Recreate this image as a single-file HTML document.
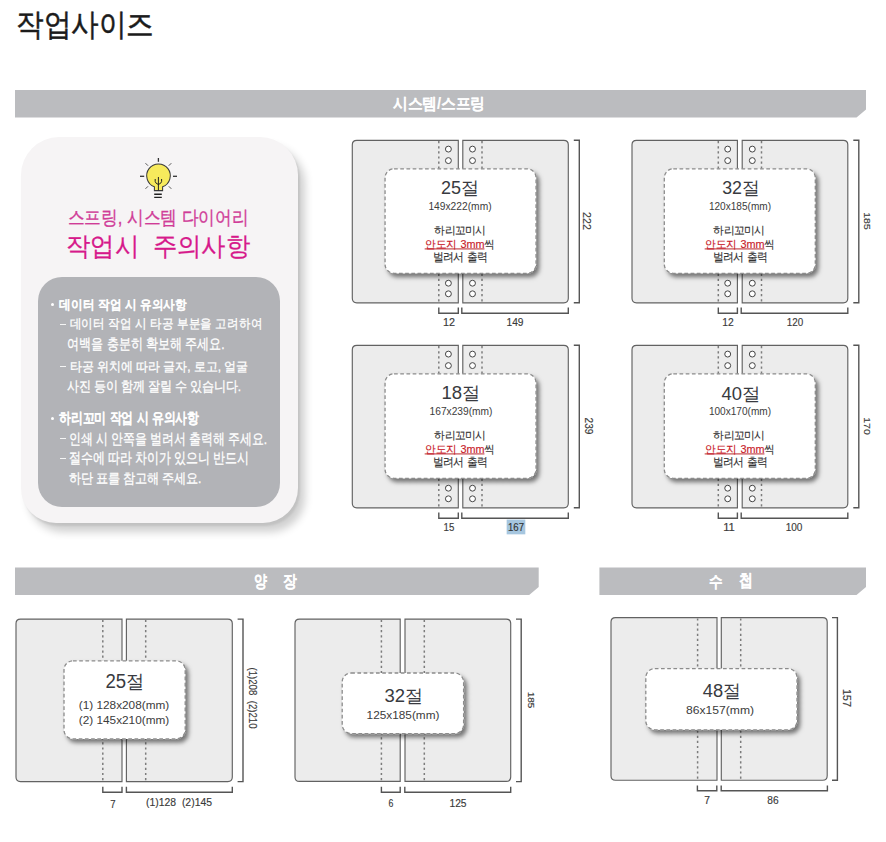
<!DOCTYPE html>
<html><head><meta charset="utf-8"><style>
html,body{margin:0;padding:0;background:#fff;}
body{width:886px;height:842px;position:relative;overflow:hidden;font-family:"Liberation Sans", sans-serif;}
.t{position:absolute;white-space:nowrap;line-height:1;}

</style></head><body>
<svg style="position:absolute;left:0;top:0" width="886" height="842" viewBox="0 0 886 842"><defs><filter id="sh" x="-10%" y="-10%" width="130%" height="140%"><feDropShadow dx="3" dy="3.5" stdDeviation="2.2" flood-color="#000" flood-opacity="0.5"/></filter></defs><polygon points="15,90 866,90 866,109.6 856.5,117.6 15,117.6" fill="#bbbcbf"/>
<polygon points="15,567.5 538.7,567.5 538.7,586.9 529.2,594.9 15,594.9" fill="#bbbcbf"/>
<polygon points="599.4,567.5 866,567.5 866,586.9 856.5,594.9 599.4,594.9" fill="#bbbcbf"/>
<path d="M458.3,140.3 H356.8 Q352.3,140.3 352.3,144.8 V298.3 Q352.3,302.8 356.8,302.8 H458.3 Z" fill="#ececec" stroke="#626262" stroke-width="1.15"/>
<path d="M462.8,140.3 H563.8 Q568.3,140.3 568.3,144.8 V298.3 Q568.3,302.8 563.8,302.8 H462.8 Z" fill="#ececec" stroke="#626262" stroke-width="1.15"/>
<line x1="438.8" y1="141.10000000000002" x2="438.8" y2="301.8" stroke="#7c7c7c" stroke-width="1.5" stroke-dasharray="2.2 2.9"/>
<line x1="482" y1="141.10000000000002" x2="482" y2="301.8" stroke="#7c7c7c" stroke-width="1.5" stroke-dasharray="2.2 2.9"/>
<circle cx="448.4" cy="149.1" r="2.95" fill="#fff" stroke="#444" stroke-width="1"/>
<circle cx="472.5" cy="149.1" r="2.95" fill="#fff" stroke="#444" stroke-width="1"/>
<circle cx="448.4" cy="160.6" r="2.95" fill="#fff" stroke="#444" stroke-width="1"/>
<circle cx="472.5" cy="160.6" r="2.95" fill="#fff" stroke="#444" stroke-width="1"/>
<circle cx="448.4" cy="283.2" r="2.95" fill="#fff" stroke="#444" stroke-width="1"/>
<circle cx="472.5" cy="283.2" r="2.95" fill="#fff" stroke="#444" stroke-width="1"/>
<circle cx="448.4" cy="293.8" r="2.95" fill="#fff" stroke="#444" stroke-width="1"/>
<circle cx="472.5" cy="293.8" r="2.95" fill="#fff" stroke="#444" stroke-width="1"/>
<rect x="385.05" y="168.8" width="151.00" height="104.50" rx="9" fill="#fff" stroke="#8c8c8c" stroke-width="1.3" stroke-dasharray="3.7 2.5" filter="url(#sh)"/>
<path d="M573.8,140.3 H579.3 V302.8 H573.8" fill="none" stroke="#555" stroke-width="1.4"/>
<path d="M438.8,307.6 V313.2 H458.3 V307.6" fill="none" stroke="#555" stroke-width="1.4"/>
<path d="M461.8,307.6 V313.2 H568.3 V307.6" fill="none" stroke="#555" stroke-width="1.4"/>
<path d="M737.4,140.3 H636.5 Q632,140.3 632,144.8 V298.3 Q632,302.8 636.5,302.8 H737.4 Z" fill="#ececec" stroke="#626262" stroke-width="1.15"/>
<path d="M742.2,140.3 H843.3 Q847.8,140.3 847.8,144.8 V298.3 Q847.8,302.8 843.3,302.8 H742.2 Z" fill="#ececec" stroke="#626262" stroke-width="1.15"/>
<line x1="718.3" y1="141.10000000000002" x2="718.3" y2="301.8" stroke="#7c7c7c" stroke-width="1.5" stroke-dasharray="2.2 2.9"/>
<line x1="761.5" y1="141.10000000000002" x2="761.5" y2="301.8" stroke="#7c7c7c" stroke-width="1.5" stroke-dasharray="2.2 2.9"/>
<circle cx="727.7" cy="149.1" r="2.95" fill="#fff" stroke="#444" stroke-width="1"/>
<circle cx="752.3" cy="149.1" r="2.95" fill="#fff" stroke="#444" stroke-width="1"/>
<circle cx="727.7" cy="160.6" r="2.95" fill="#fff" stroke="#444" stroke-width="1"/>
<circle cx="752.3" cy="160.6" r="2.95" fill="#fff" stroke="#444" stroke-width="1"/>
<circle cx="727.7" cy="283.2" r="2.95" fill="#fff" stroke="#444" stroke-width="1"/>
<circle cx="752.3" cy="283.2" r="2.95" fill="#fff" stroke="#444" stroke-width="1"/>
<circle cx="727.7" cy="293.8" r="2.95" fill="#fff" stroke="#444" stroke-width="1"/>
<circle cx="752.3" cy="293.8" r="2.95" fill="#fff" stroke="#444" stroke-width="1"/>
<rect x="664.3" y="168.8" width="151.00" height="104.50" rx="9" fill="#fff" stroke="#8c8c8c" stroke-width="1.3" stroke-dasharray="3.7 2.5" filter="url(#sh)"/>
<path d="M853.3,140.3 H858.8 V302.8 H853.3" fill="none" stroke="#555" stroke-width="1.4"/>
<path d="M718.3,307.6 V313.2 H737.4 V307.6" fill="none" stroke="#555" stroke-width="1.4"/>
<path d="M741.2,307.6 V313.2 H847.8 V307.6" fill="none" stroke="#555" stroke-width="1.4"/>
<path d="M458.3,345.3 H356.8 Q352.3,345.3 352.3,349.8 V503.3 Q352.3,507.8 356.8,507.8 H458.3 Z" fill="#ececec" stroke="#626262" stroke-width="1.15"/>
<path d="M462.8,345.3 H563.8 Q568.3,345.3 568.3,349.8 V503.3 Q568.3,507.8 563.8,507.8 H462.8 Z" fill="#ececec" stroke="#626262" stroke-width="1.15"/>
<line x1="438.8" y1="346.1" x2="438.8" y2="506.8" stroke="#7c7c7c" stroke-width="1.5" stroke-dasharray="2.2 2.9"/>
<line x1="482" y1="346.1" x2="482" y2="506.8" stroke="#7c7c7c" stroke-width="1.5" stroke-dasharray="2.2 2.9"/>
<circle cx="448.4" cy="354.1" r="2.95" fill="#fff" stroke="#444" stroke-width="1"/>
<circle cx="472.5" cy="354.1" r="2.95" fill="#fff" stroke="#444" stroke-width="1"/>
<circle cx="448.4" cy="365.6" r="2.95" fill="#fff" stroke="#444" stroke-width="1"/>
<circle cx="472.5" cy="365.6" r="2.95" fill="#fff" stroke="#444" stroke-width="1"/>
<circle cx="448.4" cy="488.2" r="2.95" fill="#fff" stroke="#444" stroke-width="1"/>
<circle cx="472.5" cy="488.2" r="2.95" fill="#fff" stroke="#444" stroke-width="1"/>
<circle cx="448.4" cy="498.8" r="2.95" fill="#fff" stroke="#444" stroke-width="1"/>
<circle cx="472.5" cy="498.8" r="2.95" fill="#fff" stroke="#444" stroke-width="1"/>
<rect x="385.05" y="373.8" width="151.00" height="104.50" rx="9" fill="#fff" stroke="#8c8c8c" stroke-width="1.3" stroke-dasharray="3.7 2.5" filter="url(#sh)"/>
<path d="M573.8,345.3 H579.3 V507.8 H573.8" fill="none" stroke="#555" stroke-width="1.4"/>
<path d="M438.8,512.6 V518.2 H458.3 V512.6" fill="none" stroke="#555" stroke-width="1.4"/>
<path d="M461.8,512.6 V518.2 H568.3 V512.6" fill="none" stroke="#555" stroke-width="1.4"/>
<path d="M737.4,345.3 H636.5 Q632,345.3 632,349.8 V503.3 Q632,507.8 636.5,507.8 H737.4 Z" fill="#ececec" stroke="#626262" stroke-width="1.15"/>
<path d="M742.2,345.3 H843.3 Q847.8,345.3 847.8,349.8 V503.3 Q847.8,507.8 843.3,507.8 H742.2 Z" fill="#ececec" stroke="#626262" stroke-width="1.15"/>
<line x1="718.3" y1="346.1" x2="718.3" y2="506.8" stroke="#7c7c7c" stroke-width="1.5" stroke-dasharray="2.2 2.9"/>
<line x1="761.5" y1="346.1" x2="761.5" y2="506.8" stroke="#7c7c7c" stroke-width="1.5" stroke-dasharray="2.2 2.9"/>
<circle cx="727.7" cy="354.1" r="2.95" fill="#fff" stroke="#444" stroke-width="1"/>
<circle cx="752.3" cy="354.1" r="2.95" fill="#fff" stroke="#444" stroke-width="1"/>
<circle cx="727.7" cy="365.6" r="2.95" fill="#fff" stroke="#444" stroke-width="1"/>
<circle cx="752.3" cy="365.6" r="2.95" fill="#fff" stroke="#444" stroke-width="1"/>
<circle cx="727.7" cy="488.2" r="2.95" fill="#fff" stroke="#444" stroke-width="1"/>
<circle cx="752.3" cy="488.2" r="2.95" fill="#fff" stroke="#444" stroke-width="1"/>
<circle cx="727.7" cy="498.8" r="2.95" fill="#fff" stroke="#444" stroke-width="1"/>
<circle cx="752.3" cy="498.8" r="2.95" fill="#fff" stroke="#444" stroke-width="1"/>
<rect x="664.3" y="373.8" width="151.00" height="104.50" rx="9" fill="#fff" stroke="#8c8c8c" stroke-width="1.3" stroke-dasharray="3.7 2.5" filter="url(#sh)"/>
<path d="M853.3,345.3 H858.8 V507.8 H853.3" fill="none" stroke="#555" stroke-width="1.4"/>
<path d="M718.3,512.6 V518.2 H737.4 V512.6" fill="none" stroke="#555" stroke-width="1.4"/>
<path d="M741.2,512.6 V518.2 H847.8 V512.6" fill="none" stroke="#555" stroke-width="1.4"/>
<path d="M122,619.1 H20.5 Q16,619.1 16,623.6 V777.1 Q16,781.6 20.5,781.6 H122 Z" fill="#ececec" stroke="#626262" stroke-width="1.15"/>
<path d="M126.4,619.1 H227.8 Q232.3,619.1 232.3,623.6 V777.1 Q232.3,781.6 227.8,781.6 H126.4 Z" fill="#ececec" stroke="#626262" stroke-width="1.15"/>
<line x1="102.8" y1="619.9" x2="102.8" y2="780.6" stroke="#7c7c7c" stroke-width="1.5" stroke-dasharray="2.2 2.9"/>
<line x1="145.7" y1="619.9" x2="145.7" y2="780.6" stroke="#7c7c7c" stroke-width="1.5" stroke-dasharray="2.2 2.9"/>
<rect x="64" y="660.8" width="121.20" height="78.10" rx="9" fill="#fff" stroke="#8c8c8c" stroke-width="1.3" stroke-dasharray="3.7 2.5" filter="url(#sh)"/>
<path d="M237.6,619.1 H243 V781.6 H237.6" fill="none" stroke="#555" stroke-width="1.4"/>
<path d="M102.8,786.7 V792.2 H122 V786.7" fill="none" stroke="#555" stroke-width="1.4"/>
<path d="M126.4,786.7 V792.2 H232.3 V786.7" fill="none" stroke="#555" stroke-width="1.4"/>
<path d="M400.2,619.1 H299.5 Q295,619.1 295,623.6 V776.9 Q295,781.4 299.5,781.4 H400.2 Z" fill="#ececec" stroke="#626262" stroke-width="1.15"/>
<path d="M405,619.1 H506.2 Q510.7,619.1 510.7,623.6 V776.9 Q510.7,781.4 506.2,781.4 H405 Z" fill="#ececec" stroke="#626262" stroke-width="1.15"/>
<line x1="381.4" y1="619.9" x2="381.4" y2="780.4" stroke="#7c7c7c" stroke-width="1.5" stroke-dasharray="2.2 2.9"/>
<line x1="424.3" y1="619.9" x2="424.3" y2="780.4" stroke="#7c7c7c" stroke-width="1.5" stroke-dasharray="2.2 2.9"/>
<rect x="342.2" y="673" width="121.40" height="60.60" rx="9" fill="#fff" stroke="#8c8c8c" stroke-width="1.3" stroke-dasharray="3.7 2.5" filter="url(#sh)"/>
<path d="M516,619.1 H521.2 V781.6 H516" fill="none" stroke="#555" stroke-width="1.4"/>
<path d="M381.4,786.8 V792.3 H400.2 V786.8" fill="none" stroke="#555" stroke-width="1.4"/>
<path d="M404.8,786.8 V792.3 H510.7 V786.8" fill="none" stroke="#555" stroke-width="1.4"/>
<path d="M717,617.6 H615.5 Q611,617.6 611,622.1 V775.7 Q611,780.2 615.5,780.2 H717 Z" fill="#ececec" stroke="#626262" stroke-width="1.15"/>
<path d="M721.3,617.6 H822.7 Q827.2,617.6 827.2,622.1 V775.7 Q827.2,780.2 822.7,780.2 H721.3 Z" fill="#ececec" stroke="#626262" stroke-width="1.15"/>
<line x1="697.6" y1="618.4" x2="697.6" y2="779.2" stroke="#7c7c7c" stroke-width="1.5" stroke-dasharray="2.2 2.9"/>
<line x1="740.7" y1="618.4" x2="740.7" y2="779.2" stroke="#7c7c7c" stroke-width="1.5" stroke-dasharray="2.2 2.9"/>
<rect x="645.8" y="668.6" width="151.20" height="61.20" rx="9" fill="#fff" stroke="#8c8c8c" stroke-width="1.3" stroke-dasharray="3.7 2.5" filter="url(#sh)"/>
<path d="M832,617.6 H837.4 V780.2 H832" fill="none" stroke="#555" stroke-width="1.4"/>
<path d="M697.4,785.4 V790.8 H716.8 V785.4" fill="none" stroke="#555" stroke-width="1.4"/>
<path d="M721.2,785.4 V790.8 H827.4 V785.4" fill="none" stroke="#555" stroke-width="1.4"/></svg>

<div style="position:absolute;left:20.5px;top:137px;width:277px;height:386px;border-radius:38px 38px 35px 35px;background:#f6f4f5;box-shadow:2px 3px 2px rgba(0,0,0,0.07), 7px 9px 8px rgba(0,0,0,0.19);"></div>
<div style="position:absolute;left:37.8px;top:277.3px;width:242.4px;height:230px;border-radius:24px;background:#b2b3b7;"></div>
<div style="position:absolute;left:50.7px;top:303.4px;width:3px;height:3px;border-radius:50%;background:#fff"></div>
<div style="position:absolute;left:50.8px;top:416.6px;width:3px;height:3px;border-radius:50%;background:#fff"></div>
<div style="position:absolute;left:60px;top:324px;width:5.7px;height:1.2px;background:#f4f4f4"></div>
<div style="position:absolute;left:60px;top:365.7px;width:5.7px;height:1.2px;background:#f4f4f4"></div>
<div style="position:absolute;left:60px;top:438px;width:5.7px;height:1.2px;background:#f4f4f4"></div>
<div style="position:absolute;left:60px;top:457.8px;width:5.7px;height:1.2px;background:#f4f4f4"></div>
<svg style="position:absolute;left:130px;top:150px" width="60" height="50" viewBox="0 0 60 50">
 <g stroke="#333" stroke-width="1.3" stroke-linecap="butt">
  <line x1="28.4" y1="8" x2="28.4" y2="11.8"/>
  <line x1="10" y1="26.3" x2="14.2" y2="26.3"/>
  <line x1="43" y1="26.3" x2="47" y2="26.3"/>
  <line x1="15.5" y1="13.2" x2="18" y2="15.7" stroke="#555" stroke-width="1"/>
  <line x1="41.3" y1="13.2" x2="38.8" y2="15.7" stroke="#555" stroke-width="1"/>
  <line x1="15.5" y1="38.8" x2="18" y2="36.3" stroke="#555" stroke-width="1"/>
  <line x1="41.3" y1="38.8" x2="38.8" y2="36.3" stroke="#555" stroke-width="1"/>
 </g>
 <path d="M24.4,36.8 A11.8,11.8 0 1 1 32.6,36.8 V40.6 H24.4 Z" fill="#f7ea5c" stroke="#3a3a3a" stroke-width="1.05"/>
 <path d="M28.4,27 V40.5 M25.2,29 V31.5 Q25.5,33.5 28.4,34.5 M31.6,29 V31.5 Q31.3,33.5 28.4,34.5" fill="none" stroke="#222" stroke-width="1.0"/>
 <path d="M24.2,44.3 H31.8 M24.2,47.4 H31.8" stroke="#222" stroke-width="1.4"/>
</svg>
<div class="t" id="title" style="left:84.89px;top:23.56px;font-size:124.15px;color:#1b1b1b;font-weight:normal;transform:translate(-50%,-50%) scale(0.22302,0.25);-webkit-text-stroke-width:2.00px;">작업사이즈</div>
<div class="t" id="bar1" style="left:438.61px;top:103.79px;font-size:63.72px;color:#fff;font-weight:bold;transform:translate(-50%,-50%) scale(0.23012,0.25);-webkit-text-stroke-width:0.60px;">시스템/스프링</div>
<div class="t" id="yang" style="left:259.78px;top:580.69px;font-size:67.52px;color:#fff;font-weight:bold;transform:translate(-50%,-50%) scale(0.19021,0.25);-webkit-text-stroke-width:1.20px;">양</div>
<div class="t" id="jang" style="left:289.91px;top:580.85px;font-size:67.52px;color:#fff;font-weight:bold;transform:translate(-50%,-50%) scale(0.20303,0.25);-webkit-text-stroke-width:1.20px;">장</div>
<div class="t" id="su" style="left:715.89px;top:581.76px;font-size:64.06px;color:#fff;font-weight:bold;transform:translate(-50%,-50%) scale(0.21315,0.25);-webkit-text-stroke-width:1.20px;">수</div>
<div class="t" id="cheop" style="left:745.73px;top:580.47px;font-size:66.79px;color:#fff;font-weight:bold;transform:translate(-50%,-50%) scale(0.20361,0.25);-webkit-text-stroke-width:1.20px;">첩</div>
<div class="t" id="pink1" style="left:158.45px;top:216.65px;font-size:76.00px;color:#d03c98;font-weight:normal;transform:translate(-50%,-50%) scale(0.21929,0.25);-webkit-text-stroke-width:1.20px;">스프링, 시스템 다이어리</div>
<div class="t" id="pink2" style="left:158.23px;top:246.21px;font-size:103.52px;color:#d6198b;font-weight:normal;transform:translate(-50%,-50%) scale(0.23404,0.25);-webkit-text-stroke-width:1.00px;">작업시&nbsp; 주의사항</div>
<div class="t" id="b1" style="left:123.14px;top:304.28px;font-size:53.00px;color:#fff;font-weight:bold;transform:translate(-50%,-50%) scale(0.22262,0.25);-webkit-text-stroke-width:0.80px;">데이터 작업 시 유의사항</div>
<div class="t" id="b2" style="left:166.48px;top:323.49px;font-size:53.46px;color:#fff;font-weight:normal;transform:translate(-50%,-50%) scale(0.22194,0.25);-webkit-text-stroke-width:1.20px;">데이터 작업 시 타공 부분을 고려하여</div>
<div class="t" id="b3" style="left:146.01px;top:343.93px;font-size:60.45px;color:#fff;font-weight:normal;transform:translate(-50%,-50%) scale(0.19982,0.25);-webkit-text-stroke-width:1.20px;">여백을 충분히 확보해 주세요.</div>
<div class="t" id="b4" style="left:158.52px;top:367.31px;font-size:51.75px;color:#fff;font-weight:normal;transform:translate(-50%,-50%) scale(0.23037,0.25);-webkit-text-stroke-width:1.20px;">타공 위치에 따라 글자, 로고, 얼굴</div>
<div class="t" id="b5" style="left:153.66px;top:386.30px;font-size:54.78px;color:#fff;font-weight:normal;transform:translate(-50%,-50%) scale(0.21573,0.25);-webkit-text-stroke-width:1.20px;">사진 등이 함께 잘릴 수 있습니다.</div>
<div class="t" id="b6" style="left:129.24px;top:418.06px;font-size:60.00px;color:#fff;font-weight:bold;transform:translate(-50%,-50%) scale(0.19781,0.25);-webkit-text-stroke-width:0.80px;">하리꼬미 작업 시 유의사항</div>
<div class="t" id="b7" style="left:168.02px;top:439.03px;font-size:60.00px;color:#fff;font-weight:normal;transform:translate(-50%,-50%) scale(0.19824,0.25);-webkit-text-stroke-width:1.20px;">인쇄 시 안쪽을 벌려서 출력해 주세요.</div>
<div class="t" id="b8" style="left:158.59px;top:457.65px;font-size:60.00px;color:#fff;font-weight:normal;transform:translate(-50%,-50%) scale(0.19906,0.25);-webkit-text-stroke-width:1.20px;">절수에 따라 차이가 있으니 반드시</div>
<div class="t" id="b9" style="left:135.30px;top:478.35px;font-size:55.43px;color:#fff;font-weight:normal;transform:translate(-50%,-50%) scale(0.21652,0.25);-webkit-text-stroke-width:1.20px;">하단 표를 참고해 주세요.</div>
<div class="t" id="d1big" style="left:460.47px;top:188.43px;font-size:71.47px;color:#383a40;font-weight:normal;transform:translate(-50%,-50%) scale(0.25196,0.25);">25절</div>
<div class="t" id="d1dim" style="left:460.21px;top:205.70px;font-size:40.00px;color:#3c3c3c;font-weight:normal;transform:translate(-50%,-50%) scale(0.25613,0.25);">149x222(mm)</div>
<div class="t" id="d1l1" style="left:460.37px;top:230.74px;font-size:42.43px;color:#333;font-weight:normal;transform:translate(-50%,-50%) scale(0.24545,0.25);-webkit-text-stroke-width:0.60px;">하리꼬미시</div>
<div class="t" id="d1l2" style="left:460.39px;top:243.74px;font-size:44.65px;color:#333;font-weight:normal;transform:translate(-50%,-50%) scale(0.24234,0.25);-webkit-text-stroke-width:0.60px;"><span style="color:#c8202a;text-decoration:underline;text-decoration-color:#b8282e">안도지 3mm</span>씩</div>
<div class="t" id="d1l3" style="left:460.21px;top:256.74px;font-size:46.28px;color:#333;font-weight:normal;transform:translate(-50%,-50%) scale(0.22482,0.25);-webkit-text-stroke-width:0.60px;">벌려서 출력</div>
<div class="t" id="d1w1" style="left:448.80px;top:321.98px;font-size:43.20px;color:#3a3a3a;font-weight:normal;transform:translate(-50%,-50%) scale(0.24958,0.25);-webkit-text-stroke-width:0.60px;">12</div>
<div class="t" id="d1w2" style="left:514.96px;top:321.98px;font-size:43.20px;color:#3a3a3a;font-weight:normal;transform:translate(-50%,-50%) scale(0.23657,0.25);-webkit-text-stroke-width:0.60px;">149</div>
<div class="t" id="d1h" style="left:587.12px;top:220.84px;font-size:43.20px;color:#3a3a3a;font-weight:normal;transform:translate(-50%,-50%) rotate(90deg) scale(0.24668,0.25);-webkit-text-stroke-width:0.60px;">222</div>
<div class="t" id="d2big" style="left:740.74px;top:188.12px;font-size:71.76px;color:#383a40;font-weight:normal;transform:translate(-50%,-50%) scale(0.24833,0.25);">32절</div>
<div class="t" id="d2dim" style="left:739.86px;top:205.70px;font-size:40.00px;color:#3c3c3c;font-weight:normal;transform:translate(-50%,-50%) scale(0.25218,0.25);">120x185(mm)</div>
<div class="t" id="d2l1" style="left:739.02px;top:230.74px;font-size:42.43px;color:#333;font-weight:normal;transform:translate(-50%,-50%) scale(0.24545,0.25);-webkit-text-stroke-width:0.60px;">하리꼬미시</div>
<div class="t" id="d2l2" style="left:739.89px;top:243.74px;font-size:44.65px;color:#333;font-weight:normal;transform:translate(-50%,-50%) scale(0.24234,0.25);-webkit-text-stroke-width:0.60px;"><span style="color:#c8202a;text-decoration:underline;text-decoration-color:#b8282e">안도지 3mm</span>씩</div>
<div class="t" id="d2l3" style="left:739.71px;top:256.74px;font-size:46.28px;color:#333;font-weight:normal;transform:translate(-50%,-50%) scale(0.22482,0.25);-webkit-text-stroke-width:0.60px;">벌려서 출력</div>
<div class="t" id="d2w1" style="left:727.85px;top:321.81px;font-size:43.20px;color:#3a3a3a;font-weight:normal;transform:translate(-50%,-50%) scale(0.23785,0.25);-webkit-text-stroke-width:0.60px;">12</div>
<div class="t" id="d2w2" style="left:794.66px;top:321.81px;font-size:43.20px;color:#3a3a3a;font-weight:normal;transform:translate(-50%,-50%) scale(0.22830,0.25);-webkit-text-stroke-width:0.60px;">120</div>
<div class="t" id="d2h" style="left:866.68px;top:220.67px;font-size:39.12px;color:#3a3a3a;font-weight:normal;transform:translate(-50%,-50%) rotate(90deg) scale(0.26729,0.25);-webkit-text-stroke-width:0.60px;">185</div>
<div class="t" id="d3big" style="left:461.04px;top:393.18px;font-size:73.30px;color:#383a40;font-weight:normal;transform:translate(-50%,-50%) scale(0.25282,0.25);">18절</div>
<div class="t" id="d3dim" style="left:461.15px;top:410.69px;font-size:40.00px;color:#3c3c3c;font-weight:normal;transform:translate(-50%,-50%) scale(0.25441,0.25);">167x239(mm)</div>
<div class="t" id="d3l1" style="left:460.37px;top:435.74px;font-size:42.43px;color:#333;font-weight:normal;transform:translate(-50%,-50%) scale(0.24545,0.25);-webkit-text-stroke-width:0.60px;">하리꼬미시</div>
<div class="t" id="d3l2" style="left:460.39px;top:448.74px;font-size:44.65px;color:#333;font-weight:normal;transform:translate(-50%,-50%) scale(0.24234,0.25);-webkit-text-stroke-width:0.60px;"><span style="color:#c8202a;text-decoration:underline;text-decoration-color:#b8282e">안도지 3mm</span>씩</div>
<div class="t" id="d3l3" style="left:460.21px;top:461.74px;font-size:46.28px;color:#333;font-weight:normal;transform:translate(-50%,-50%) scale(0.22482,0.25);-webkit-text-stroke-width:0.60px;">벌려서 출력</div>
<div class="t" id="d3w1" style="left:448.97px;top:527.20px;font-size:43.20px;color:#3a3a3a;font-weight:normal;transform:translate(-50%,-50%) scale(0.22454,0.25);-webkit-text-stroke-width:0.60px;">15</div>
<div class="t" id="d3w2" style="left:515.65px;top:527.20px;font-size:43.20px;color:#333;font-weight:normal;transform:translate(-50%,-50%) scale(0.22205,0.25);-webkit-text-stroke-width:0.60px;background:#a6c6df;padding:8px 6.0px;">167</div>
<div class="t" id="d3h" style="left:587.95px;top:425.75px;font-size:40.00px;color:#3a3a3a;font-weight:normal;transform:translate(-50%,-50%) rotate(90deg) scale(0.25180,0.25);-webkit-text-stroke-width:0.60px;">239</div>
<div class="t" id="d4big" style="left:740.52px;top:393.51px;font-size:71.51px;color:#383a40;font-weight:normal;transform:translate(-50%,-50%) scale(0.25690,0.25);">40절</div>
<div class="t" id="d4dim" style="left:739.86px;top:410.69px;font-size:40.00px;color:#3c3c3c;font-weight:normal;transform:translate(-50%,-50%) scale(0.25218,0.25);">100x170(mm)</div>
<div class="t" id="d4l1" style="left:739.02px;top:435.74px;font-size:42.43px;color:#333;font-weight:normal;transform:translate(-50%,-50%) scale(0.24545,0.25);-webkit-text-stroke-width:0.60px;">하리꼬미시</div>
<div class="t" id="d4l2" style="left:739.89px;top:448.74px;font-size:44.65px;color:#333;font-weight:normal;transform:translate(-50%,-50%) scale(0.24234,0.25);-webkit-text-stroke-width:0.60px;"><span style="color:#c8202a;text-decoration:underline;text-decoration-color:#b8282e">안도지 3mm</span>씩</div>
<div class="t" id="d4l3" style="left:739.71px;top:461.74px;font-size:46.28px;color:#333;font-weight:normal;transform:translate(-50%,-50%) scale(0.22482,0.25);-webkit-text-stroke-width:0.60px;">벌려서 출력</div>
<div class="t" id="d4w1" style="left:728.82px;top:527.42px;font-size:43.20px;color:#3a3a3a;font-weight:normal;transform:translate(-50%,-50%) scale(0.25958,0.25);-webkit-text-stroke-width:0.60px;">11</div>
<div class="t" id="d4w2" style="left:793.66px;top:527.42px;font-size:43.20px;color:#3a3a3a;font-weight:normal;transform:translate(-50%,-50%) scale(0.23241,0.25);-webkit-text-stroke-width:0.60px;">100</div>
<div class="t" id="d4h" style="left:867.12px;top:425.85px;font-size:39.12px;color:#3a3a3a;font-weight:normal;transform:translate(-50%,-50%) rotate(90deg) scale(0.26940,0.25);-webkit-text-stroke-width:0.60px;">170</div>
<div class="t" id="e1big" style="left:125.18px;top:681.21px;font-size:77.32px;color:#383a40;font-weight:normal;transform:translate(-50%,-50%) scale(0.23982,0.25);">25절</div>
<div class="t" id="e1a" style="left:124.32px;top:706.49px;font-size:42.40px;color:#3c3c3c;font-weight:normal;transform:translate(-50%,-50%) scale(0.27850,0.25);">(1) 128x208(mm)</div>
<div class="t" id="e1b" style="left:124.31px;top:721.00px;font-size:42.40px;color:#3c3c3c;font-weight:normal;transform:translate(-50%,-50%) scale(0.27844,0.25);">(2) 145x210(mm)</div>
<div class="t" id="e1w1" style="left:112.67px;top:803.61px;font-size:43.20px;color:#3a3a3a;font-weight:normal;transform:translate(-50%,-50%) scale(0.22379,0.25);-webkit-text-stroke-width:0.60px;">7</div>
<div class="t" id="e1w2" style="left:178.69px;top:802.42px;font-size:43.20px;color:#3a3a3a;font-weight:normal;transform:translate(-50%,-50%) scale(0.24139,0.25);-webkit-text-stroke-width:0.60px;">(1)128&nbsp;&nbsp;(2)145</div>
<div class="t" id="e1h" style="left:253.30px;top:697.78px;font-size:41.48px;color:#3a3a3a;font-weight:normal;transform:translate(-50%,-50%) rotate(90deg) scale(0.23238,0.25);-webkit-text-stroke-width:0.60px;">(1)208&nbsp;&nbsp;(2)210</div>
<div class="t" id="e2big" style="left:404.16px;top:695.50px;font-size:73.42px;color:#383a40;font-weight:normal;transform:translate(-50%,-50%) scale(0.25230,0.25);">32절</div>
<div class="t" id="e2a" style="left:402.97px;top:715.69px;font-size:42.40px;color:#3c3c3c;font-weight:normal;transform:translate(-50%,-50%) scale(0.27840,0.25);">125x185(mm)</div>
<div class="t" id="e2w1" style="left:390.93px;top:802.78px;font-size:43.20px;color:#3a3a3a;font-weight:normal;transform:translate(-50%,-50%) scale(0.20245,0.25);-webkit-text-stroke-width:0.60px;">6</div>
<div class="t" id="e2w2" style="left:458.09px;top:802.78px;font-size:43.20px;color:#3a3a3a;font-weight:normal;transform:translate(-50%,-50%) scale(0.23736,0.25);-webkit-text-stroke-width:0.60px;">125</div>
<div class="t" id="e2h" style="left:530.97px;top:700.03px;font-size:37.56px;color:#3a3a3a;font-weight:normal;transform:translate(-50%,-50%) rotate(90deg) scale(0.26711,0.25);-webkit-text-stroke-width:0.60px;">185</div>
<div class="t" id="e3big" style="left:722.01px;top:690.93px;font-size:73.39px;color:#383a40;font-weight:normal;transform:translate(-50%,-50%) scale(0.24907,0.25);">48절</div>
<div class="t" id="e3a" style="left:720.46px;top:711.27px;font-size:42.40px;color:#3c3c3c;font-weight:normal;transform:translate(-50%,-50%) scale(0.28616,0.25);">86x157(mm)</div>
<div class="t" id="e3w1" style="left:707.43px;top:800.04px;font-size:43.20px;color:#3a3a3a;font-weight:normal;transform:translate(-50%,-50%) scale(0.23886,0.25);-webkit-text-stroke-width:0.60px;">7</div>
<div class="t" id="e3w2" style="left:773.26px;top:799.80px;font-size:43.20px;color:#3a3a3a;font-weight:normal;transform:translate(-50%,-50%) scale(0.23516,0.25);-webkit-text-stroke-width:0.60px;">86</div>
<div class="t" id="e3h" style="left:847.23px;top:698.03px;font-size:43.20px;color:#3a3a3a;font-weight:normal;transform:translate(-50%,-50%) rotate(90deg) scale(0.24786,0.25);-webkit-text-stroke-width:0.60px;">157</div>
</body></html>
